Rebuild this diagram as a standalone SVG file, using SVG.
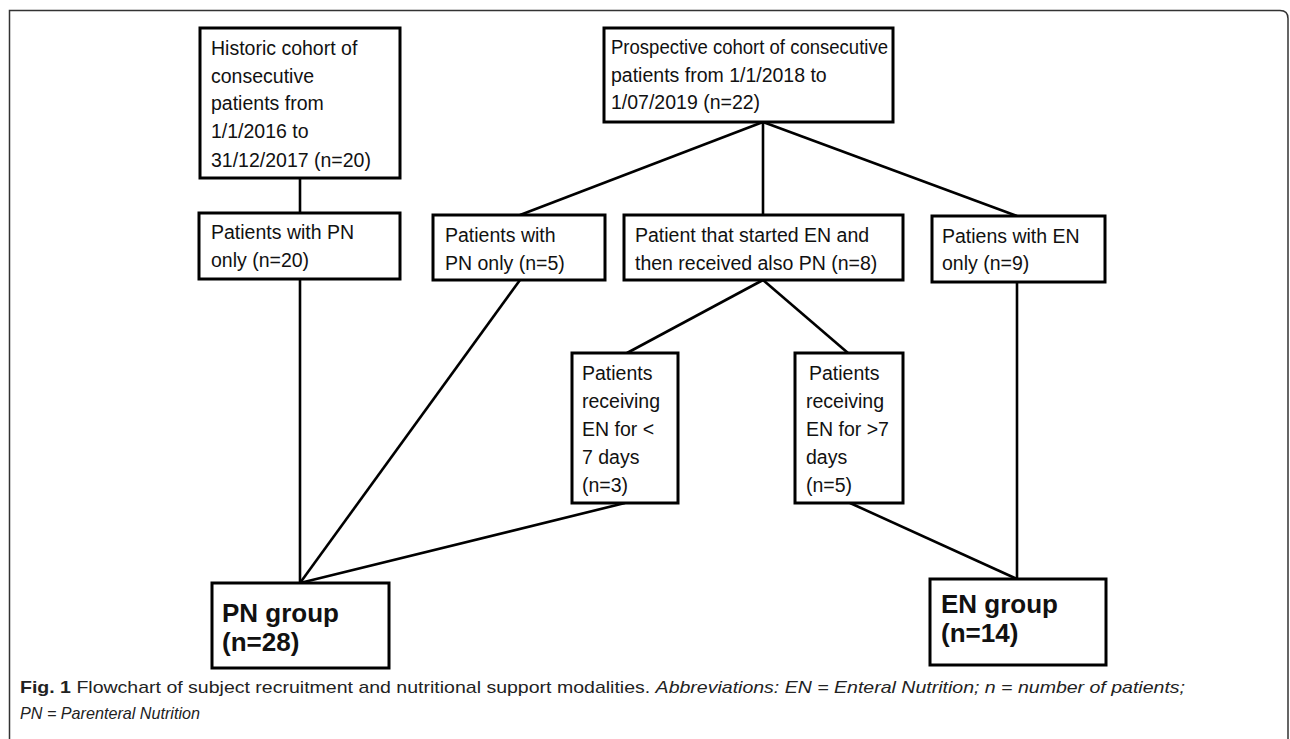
<svg xmlns="http://www.w3.org/2000/svg" width="1290" height="739" viewBox="0 0 1290 739">
<style>
.box{fill:#fff;stroke:#000;stroke-width:3}
.t{font-family:"Liberation Sans",Arial,sans-serif;font-size:19.5px;fill:#111}
.b{font-family:"Liberation Sans",Arial,sans-serif;font-size:26px;font-weight:bold;fill:#111}
.c{stroke:#000;stroke-width:2.6;fill:none}
.cap{font-family:"Liberation Sans Narrow","Liberation Sans",Arial,sans-serif;font-size:17px;fill:#222}
</style>
<rect width="1290" height="739" fill="#fff"/>
<path d="M9.5 739 L9.5 10.5 L1280 10.5 Q1288 10.5 1288 18.5 L1288 739" fill="none" stroke="#333" stroke-width="1.5"/>
<g id="connectors">
<line class="c" x1="300" y1="178" x2="300" y2="213"/>
<line class="c" x1="300" y1="279" x2="300" y2="583"/>
<line class="c" x1="520" y1="280" x2="300" y2="583"/>
<line class="c" x1="625" y1="503" x2="300" y2="583"/>
<line class="c" x1="763" y1="122" x2="520" y2="215"/>
<line class="c" x1="763" y1="122" x2="763" y2="215"/>
<line class="c" x1="763" y1="122" x2="1017" y2="216"/>
<line class="c" x1="1017" y1="282" x2="1017" y2="579"/>
<line class="c" x1="763" y1="280" x2="627" y2="353"/>
<line class="c" x1="763" y1="280" x2="848" y2="353"/>
<line class="c" x1="850" y1="503" x2="1017" y2="579"/>
</g>
<g id="historic">
<rect class="box" x="200" y="28" width="200" height="150"/>
<text class="t" x="211" y="55">Historic cohort of</text>
<text class="t" x="211" y="83">consecutive</text>
<text class="t" x="211" y="110">patients from</text>
<text class="t" x="211" y="138">1/1/2016 to</text>
<text class="t" x="211" y="167">31/12/2017 (n=20)</text>
</g>
<g id="pn20">
<rect class="box" x="199" y="213" width="201" height="66"/>
<text class="t" x="211" y="239">Patients with PN</text>
<text class="t" x="211" y="267">only (n=20)</text>
</g>
<g id="prospective">
<rect class="box" x="604" y="28" width="289" height="94"/>
<text class="t" x="611" y="54" textLength="277" lengthAdjust="spacingAndGlyphs">Prospective cohort of consecutive</text>
<text class="t" x="611" y="82">patients from 1/1/2018 to</text>
<text class="t" x="611" y="109">1/07/2019 (n=22)</text>
</g>
<g id="pn5">
<rect class="box" x="433" y="215" width="172" height="65"/>
<text class="t" x="445" y="242">Patients with</text>
<text class="t" x="445" y="270">PN only (n=5)</text>
</g>
<g id="enpn8">
<rect class="box" x="624" y="215" width="279" height="65"/>
<text class="t" x="635" y="242">Patient that started EN and</text>
<text class="t" x="635" y="270">then received also PN (n=8)</text>
</g>
<g id="en9">
<rect class="box" x="932" y="216" width="173" height="66"/>
<text class="t" x="942" y="243">Patiens with EN</text>
<text class="t" x="942" y="270">only (n=9)</text>
</g>
<g id="lt7">
<rect class="box" x="572" y="353" width="106" height="150"/>
<text class="t" x="582" y="380">Patients</text>
<text class="t" x="582" y="408">receiving</text>
<text class="t" x="582" y="436">EN for &lt;</text>
<text class="t" x="582" y="464">7 days</text>
<text class="t" x="582" y="492">(n=3)</text>
</g>
<g id="gt7">
<rect class="box" x="795" y="353" width="108" height="150"/>
<text class="t" x="809" y="380">Patients</text>
<text class="t" x="806" y="408">receiving</text>
<text class="t" x="806" y="436">EN for &gt;7</text>
<text class="t" x="806" y="464">days</text>
<text class="t" x="806" y="492">(n=5)</text>
</g>
<g id="pngroup">
<rect class="box" x="212" y="583" width="177" height="85"/>
<text class="b" x="222" y="622">PN group</text>
<text class="b" x="222" y="651">(n=28)</text>
</g>
<g id="engroup">
<rect class="box" x="930" y="579" width="176" height="86"/>
<text class="b" x="941" y="613">EN group</text>
<text class="b" x="941" y="642">(n=14)</text>
</g>
<text class="cap" x="20" y="693" textLength="1165" lengthAdjust="spacingAndGlyphs"><tspan font-weight="bold">Fig. 1</tspan> Flowchart of subject recruitment and nutritional support modalities. <tspan font-style="italic">Abbreviations: EN = Enteral Nutrition; n = number of patients;</tspan></text>
<text class="cap" x="20" y="719" font-style="italic" textLength="180" lengthAdjust="spacingAndGlyphs">PN = Parenteral Nutrition</text>
</svg>
